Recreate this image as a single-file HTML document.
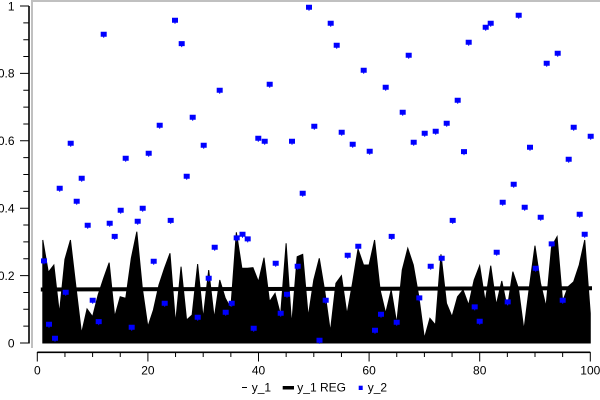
<!DOCTYPE html>
<html>
<head>
<meta charset="utf-8">
<style>
  html, body { margin: 0; padding: 0; background: #fff; }
  body { width: 600px; height: 400px; overflow: hidden; }
  svg { display: block; }
  text { font-family: "Liberation Sans", "DejaVu Sans", sans-serif; font-size: 12px; fill: #000; }
</style>
</head>
<body>
<svg width="600" height="400" viewBox="0 0 600 400" xmlns="http://www.w3.org/2000/svg">
  <rect x="31" y="0" width="569" height="2" fill="#c0c0c0"/>
  <rect x="31" y="0" width="2" height="348" fill="#c0c0c0"/>

  <g transform="translate(42.8,0) scale(5.53,1)">
    <polygon fill="#000" stroke="#000" stroke-width="1" vector-effect="non-scaling-stroke"
      points="0,343 0,240 1,272.3 2,265 3,313.3 4,259.3 5,240 6,287.3 7,333.3 8,309 9,316.7 10,295 11,278.3 12,262.7 13,316.7 14,296.7 15,298.3 16,258.3 17,231.7 18,288.3 19,326.7 20,310 21,285 22,268.3 23,253.3 24,323.3 25,266.7 26,320 27,315 28,264 29,318.3 30,270 31,318.3 32,280 33,298.3 34,308.3 35,232.3 36,268.3 37,268.3 38,267.7 39,281.7 40,257.7 41,301.7 42,293.3 43,315 44,243.3 45,325 46,256.7 47,254.3 48,316.7 49,280 50,258.3 51,291.7 52,331.7 53,283.3 54,275.7 55,314.3 56,283.3 57,249 58,265 59,265 60,240 61,290 62,313.3 63,290 64,323.3 65,270 66,248.3 67,265 68,296.7 69,338.3 70,318.3 71,325 72,254.3 73,303.3 74,316.7 75,296.7 76,290 77,305 78,280 79,265.7 80,301.7 81,265.7 82,305 83,281 84,308.3 85,271.7 86,288.3 87,330 88,286.7 89,245.7 90,283.3 91,306.7 92,246.7 93,236.7 94,301.7 95,286.7 96,281.7 97,265 98,240 99,313.3 99,343"/>
  </g>

  <line x1="42.8" y1="289.5" x2="590" y2="288.2" stroke="#000" stroke-width="4" stroke-linecap="square"/>

  <path fill="#0000ff" d="M41,258.4h6v5h-2.5v1h-1v-1h-2.5z M46,321.7h6v5h-2.5v1h-1v-1h-2.5z M52,335.7h6v5h-2.5v1h-1v-1h-2.5z M56.7,185.7h6v5h-2.5v1h-1v-1h-2.5z M62.7,289.7h6v5h-2.5v1h-1v-1h-2.5z M67.7,140.7h6v5h-2.5v1h-1v-1h-2.5z M73.7,198.7h6v5h-2.5v1h-1v-1h-2.5z M78.7,175.7h6v5h-2.5v1h-1v-1h-2.5z M84.7,222.7h6v5h-2.5v1h-1v-1h-2.5z M89.7,297.7h6v5h-2.5v1h-1v-1h-2.5z M95.7,319.1h6v5h-2.5v1h-1v-1h-2.5z M100.7,31.7h6v5h-2.5v1h-1v-1h-2.5z M106.7,220.7h6v5h-2.5v1h-1v-1h-2.5z M111.7,233.9h6v5h-2.5v1h-1v-1h-2.5z M117.7,207.7h6v5h-2.5v1h-1v-1h-2.5z M122.7,155.7h6v5h-2.5v1h-1v-1h-2.5z M128.7,324.7h6v5h-2.5v1h-1v-1h-2.5z M134.7,218.7h6v5h-2.5v1h-1v-1h-2.5z M139.7,205.7h6v5h-2.5v1h-1v-1h-2.5z M145.7,150.7h6v5h-2.5v1h-1v-1h-2.5z M150.7,258.7h6v5h-2.5v1h-1v-1h-2.5z M156.7,122.7h6v5h-2.5v1h-1v-1h-2.5z M161.7,300.7h6v5h-2.5v1h-1v-1h-2.5z M167.7,217.9h6v5h-2.5v1h-1v-1h-2.5z M172,17.7h6v5h-2.5v1h-1v-1h-2.5z M178.7,41.1h6v5h-2.5v1h-1v-1h-2.5z M183.7,173.7h6v5h-2.5v1h-1v-1h-2.5z M189.7,114.7h6v5h-2.5v1h-1v-1h-2.5z M194.7,314.7h6v5h-2.5v1h-1v-1h-2.5z M200.7,142.7h6v5h-2.5v1h-1v-1h-2.5z M205.7,275.7h6v5h-2.5v1h-1v-1h-2.5z M211.7,244.7h6v5h-2.5v1h-1v-1h-2.5z M216.7,87.7h6v5h-2.5v1h-1v-1h-2.5z M222.7,309.7h6v5h-2.5v1h-1v-1h-2.5z M228.7,300.7h6v5h-2.5v1h-1v-1h-2.5z M233.7,235.4h6v5h-2.5v1h-1v-1h-2.5z M239.5,231.7h6v5h-2.5v1h-1v-1h-2.5z M244.7,236.4h6v5h-2.5v1h-1v-1h-2.5z M250.7,325.7h6v5h-2.5v1h-1v-1h-2.5z M255.3,135.7h6v5h-2.5v1h-1v-1h-2.5z M261.7,138.7h6v5h-2.5v1h-1v-1h-2.5z M266.7,81.7h6v5h-2.5v1h-1v-1h-2.5z M272.7,260.7h6v5h-2.5v1h-1v-1h-2.5z M277.7,310.7h6v5h-2.5v1h-1v-1h-2.5z M284,291.7h6v5h-2.5v1h-1v-1h-2.5z M289,138.7h6v5h-2.5v1h-1v-1h-2.5z M294.7,263.7h6v5h-2.5v1h-1v-1h-2.5z M299.7,190.7h6v5h-2.5v1h-1v-1h-2.5z M306,4.7h6v5h-2.5v1h-1v-1h-2.5z M311.3,123.7h6v5h-2.5v1h-1v-1h-2.5z M316.5,337.7h6v5h-2.5v1h-1v-1h-2.5z M322.7,297.7h6v5h-2.5v1h-1v-1h-2.5z M327.7,20.7h6v5h-2.5v1h-1v-1h-2.5z M333.7,42.7h6v5h-2.5v1h-1v-1h-2.5z M338.7,129.7h6v5h-2.5v1h-1v-1h-2.5z M344.7,252.7h6v5h-2.5v1h-1v-1h-2.5z M349.7,141.7h6v5h-2.5v1h-1v-1h-2.5z M355.3,243.7h6v5h-2.5v1h-1v-1h-2.5z M360.7,67.7h6v5h-2.5v1h-1v-1h-2.5z M366.7,148.7h6v5h-2.5v1h-1v-1h-2.5z M372,327.7h6v5h-2.5v1h-1v-1h-2.5z M378,311.7h6v5h-2.5v1h-1v-1h-2.5z M382.7,84.7h6v5h-2.5v1h-1v-1h-2.5z M388.7,233.9h6v5h-2.5v1h-1v-1h-2.5z M393.7,319.7h6v5h-2.5v1h-1v-1h-2.5z M399.7,109.7h6v5h-2.5v1h-1v-1h-2.5z M405.7,52.7h6v5h-2.5v1h-1v-1h-2.5z M410.7,139.7h6v5h-2.5v1h-1v-1h-2.5z M416.3,295.4h6v5h-2.5v1h-1v-1h-2.5z M421.7,130.7h6v5h-2.5v1h-1v-1h-2.5z M427.7,263.7h6v5h-2.5v1h-1v-1h-2.5z M432.7,128.7h6v5h-2.5v1h-1v-1h-2.5z M438.7,255.7h6v5h-2.5v1h-1v-1h-2.5z M443.7,120.7h6v5h-2.5v1h-1v-1h-2.5z M449.7,217.9h6v5h-2.5v1h-1v-1h-2.5z M454.7,97.7h6v5h-2.5v1h-1v-1h-2.5z M461,149.1h6v5h-2.5v1h-1v-1h-2.5z M465.7,39.7h6v5h-2.5v1h-1v-1h-2.5z M471.7,304.4h6v5h-2.5v1h-1v-1h-2.5z M476.7,318.7h6v5h-2.5v1h-1v-1h-2.5z M482.7,24.7h6v5h-2.5v1h-1v-1h-2.5z M487.7,20.7h6v5h-2.5v1h-1v-1h-2.5z M493.7,249.7h6v5h-2.5v1h-1v-1h-2.5z M499.7,199.7h6v5h-2.5v1h-1v-1h-2.5z M504.7,299.4h6v5h-2.5v1h-1v-1h-2.5z M510.7,181.7h6v5h-2.5v1h-1v-1h-2.5z M515.7,12.7h6v5h-2.5v1h-1v-1h-2.5z M521.7,204.7h6v5h-2.5v1h-1v-1h-2.5z M527,144.7h6v5h-2.5v1h-1v-1h-2.5z M532.7,265.7h6v5h-2.5v1h-1v-1h-2.5z M537.7,214.7h6v5h-2.5v1h-1v-1h-2.5z M543.7,60.7h6v5h-2.5v1h-1v-1h-2.5z M548.7,241.4h6v5h-2.5v1h-1v-1h-2.5z M554.7,50.7h6v5h-2.5v1h-1v-1h-2.5z M559.7,297.7h6v5h-2.5v1h-1v-1h-2.5z M565.7,156.7h6v5h-2.5v1h-1v-1h-2.5z M570.7,124.7h6v5h-2.5v1h-1v-1h-2.5z M576.7,211.7h6v5h-2.5v1h-1v-1h-2.5z M581.7,231.7h6v5h-2.5v1h-1v-1h-2.5z M587.7,133.7h6v5h-2.5v1h-1v-1h-2.5z"/>

  <line x1="29" y1="6" x2="29" y2="343.5" stroke="#000" stroke-width="1.6"/>
  <path stroke="#000" stroke-width="1" fill="none" d="M20,343H29 M23.3,326.15H29 M23.3,309.3H29 M23.3,292.45H29 M20,275.6H29 M23.3,258.75H29 M23.3,241.9H29 M23.3,225.05H29 M20,208.2H29 M23.3,191.35H29 M23.3,174.5H29 M23.3,157.65H29 M20,140.8H29 M23.3,123.95H29 M23.3,107.1H29 M23.3,90.25H29 M20,73.4H29 M23.3,56.55H29 M23.3,39.7H29 M23.3,22.85H29 M20,6H29"/>
  <g text-anchor="end">
    <text x="14.5" y="347.3">0</text>
    <text x="14.5" y="279.9">0.2</text>
    <text x="14.5" y="212.5">0.4</text>
    <text x="14.5" y="145.1">0.6</text>
    <text x="14.5" y="77.7">0.8</text>
    <text x="14.5" y="10.3">1</text>
  </g>

  <line x1="37.3" y1="352.3" x2="590.3" y2="352.3" stroke="#000" stroke-width="1.6"/>
  <path stroke="#000" stroke-width="1" fill="none" d="M37.3,352V361.5 M64.95,352V357 M92.6,352V357 M120.25,352V357 M147.9,352V361.5 M175.55,352V357 M203.2,352V357 M230.85,352V357 M258.5,352V361.5 M286.15,352V357 M313.8,352V357 M341.45,352V357 M369.1,352V361.5 M396.75,352V357 M424.4,352V357 M452.05,352V357 M479.7,352V361.5 M507.35,352V357 M535,352V357 M562.65,352V357 M590.3,352V361.5"/>
  <g text-anchor="middle">
    <text x="37.3" y="374.5">0</text>
    <text x="147.9" y="374.5">20</text>
    <text x="258.5" y="374.5">40</text>
    <text x="369.1" y="374.5">60</text>
    <text x="479.7" y="374.5">80</text>
    <text x="590.3" y="374.5">100</text>
  </g>

  <line x1="242" y1="387.5" x2="247" y2="387.5" stroke="#000" stroke-width="1"/>
  <text x="251.7" y="391.5">y_1</text>
  <rect x="282.7" y="386" width="11.3" height="3.5" fill="#000"/>
  <text x="297.3" y="391.5">y_1 REG</text>
  <rect x="358.7" y="385.7" width="4" height="4.3" fill="#0000ff"/>
  <text x="367.7" y="391.5">y_2</text>
</svg>
</body>
</html>
